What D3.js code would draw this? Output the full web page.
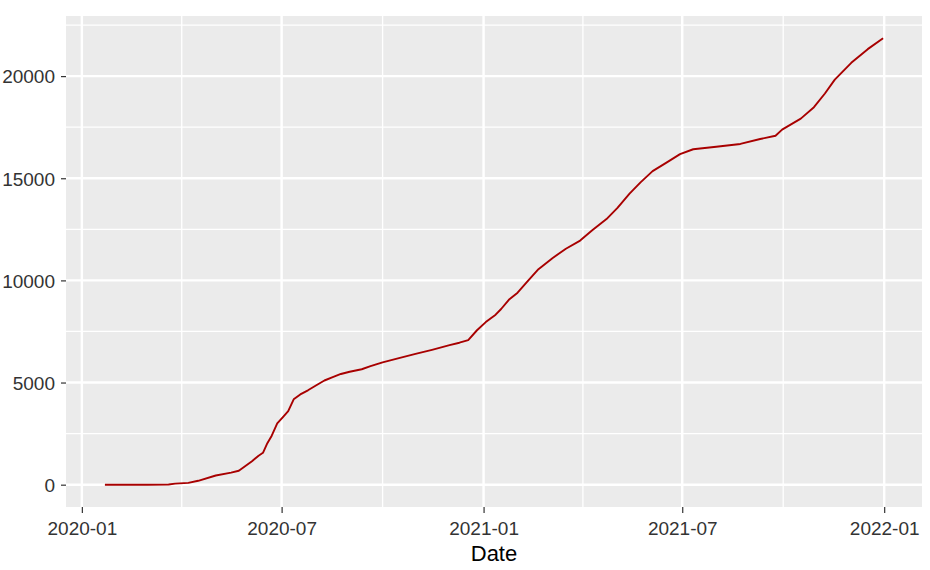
<!DOCTYPE html>
<html lang="en">
<head>
<meta charset="utf-8">
<title>Cumulative count by date</title>
<script src="https://d3js.org/d3.v7.min.js"></script>
<style>
  body { margin: 0; background: #fff; }
  text { font-family: "Liberation Sans", Arial, sans-serif; }
</style>
</head>
<body>
<div id="chart"></div>
<script>

// data (cumulative total)
var dates = [
  "2020-01-22","2020-03-01","2020-03-20","2020-03-26","2020-04-07","2020-04-16",
  "2020-05-02","2020-05-16","2020-05-23","2020-06-04","2020-06-10","2020-06-14",
  "2020-06-18","2020-06-22","2020-06-27","2020-07-02","2020-07-07","2020-07-12",
  "2020-07-18","2020-07-25","2020-08-02","2020-08-09","2020-08-16","2020-08-24",
  "2020-09-01","2020-09-12","2020-09-20","2020-10-01","2020-10-15","2020-10-31",
  "2020-11-15","2020-12-01","2020-12-10","2020-12-18","2020-12-26","2021-01-03",
  "2021-01-12","2021-01-17","2021-01-24","2021-02-01","2021-02-10","2021-02-20",
  "2021-03-05","2021-03-17","2021-03-30","2021-04-10","2021-04-23","2021-05-03",
  "2021-05-14","2021-05-24","2021-06-04","2021-06-17","2021-06-29","2021-07-11",
  "2021-08-01","2021-08-23","2021-09-10","2021-09-24","2021-09-30","2021-10-17",
  "2021-10-29","2021-11-08","2021-11-17","2021-12-02","2021-12-17","2021-12-31"
];
var values = [
  0, 0, 10, 50, 90, 190,
  450, 590, 680, 1150, 1420, 1560,
  2030, 2400, 3000, 3300, 3600, 4180,
  4420, 4620, 4880, 5100, 5250, 5420,
  5530, 5650, 5800, 5990, 6180, 6400,
  6600, 6830, 6950, 7080, 7560, 7960,
  8320, 8600, 9050, 9400, 9950, 10550,
  11100, 11550, 11950, 12450, 13000, 13550,
  14250, 14800, 15350, 15780, 16180, 16420,
  16540, 16680, 16920, 17080, 17380, 17920,
  18480, 19150, 19830, 20650, 21320, 21850
];

var yTicks = [0, 5000, 10000, 15000, 20000];
var yMinor = [2500, 7500, 12500, 17500, 22500];
var xTicks = ["2020-01-01", "2020-07-01", "2021-01-01", "2021-07-01", "2022-01-01"];
var xTitle = "Date";

var parse = d3.timeParse("%Y-%m-%d");
var data = dates.map(function(d, i) { return {date: parse(d), value: values[i]}; });

// panel placement
var W = 930, H = 570;
var panel = {left: 66, right: 922, top: 16, bottom: 507};

var svg = d3.select("#chart").append("svg")
    .attr("width", W)
    .attr("height", H);

// ggplot-like 5% expansion
var xExt = d3.extent(data, function(d) { return d.date; });
var xPad = (xExt[1] - xExt[0]) * 0.05;
var x = d3.scaleTime()
    .domain([new Date(+xExt[0] - xPad), new Date(+xExt[1] + xPad)])
    .range([panel.left, panel.right]);

var yMax = d3.max(values), yPad = yMax * 0.05;
var y = d3.scaleLinear()
    .domain([0 - yPad, yMax + yPad])
    .range([panel.bottom, panel.top]);

var xMajor = xTicks.map(parse);
var xMinor = d3.pairs(xMajor).map(function(p) { return new Date((+p[0] + +p[1]) / 2); });

// panel background
svg.append("rect")
    .attr("x", panel.left).attr("y", panel.top)
    .attr("width", panel.right - panel.left)
    .attr("height", panel.bottom - panel.top)
    .attr("fill", "#ebebeb");

var grid = svg.append("g").attr("stroke", "#fff");

// minor grid
grid.selectAll(".ym").data(yMinor.filter(function(v) { return y(v) > panel.top; }))
  .enter().append("line")
    .attr("x1", panel.left).attr("x2", panel.right)
    .attr("y1", function(d) { return y(d); }).attr("y2", function(d) { return y(d); })
    .attr("stroke-width", 1.3);
grid.selectAll(".xm").data(xMinor)
  .enter().append("line")
    .attr("y1", panel.top).attr("y2", panel.bottom)
    .attr("x1", function(d) { return x(d); }).attr("x2", function(d) { return x(d); })
    .attr("stroke-width", 1.3);

// major grid
grid.selectAll(".yM").data(yTicks)
  .enter().append("line")
    .attr("x1", panel.left).attr("x2", panel.right)
    .attr("y1", function(d) { return y(d); }).attr("y2", function(d) { return y(d); })
    .attr("stroke-width", 2.4);
grid.selectAll(".xM").data(xMajor)
  .enter().append("line")
    .attr("y1", panel.top).attr("y2", panel.bottom)
    .attr("x1", function(d) { return x(d); }).attr("x2", function(d) { return x(d); })
    .attr("stroke-width", 2.4);

// the line
var line = d3.line()
    .x(function(d) { return x(d.date); })
    .y(function(d) { return y(d.value); });

svg.append("path")
    .datum(data)
    .attr("d", line)
    .attr("fill", "none")
    .attr("stroke", "#a80000")
    .attr("stroke-width", 1.9)
    .attr("stroke-linejoin", "round");

// axes
var yAxis = svg.append("g")
    .attr("transform", "translate(" + panel.left + ",0)")
    .call(d3.axisLeft(y).tickValues(yTicks).tickSize(5).tickPadding(6).tickFormat(d3.format("d")));

var xAxis = svg.append("g")
    .attr("transform", "translate(0," + panel.bottom + ")")
    .call(d3.axisBottom(x).tickValues(xMajor).tickSize(6).tickPadding(9).tickFormat(d3.timeFormat("%Y-%m")));

[xAxis, yAxis].forEach(function(a) {
  a.select(".domain").remove();
  a.selectAll(".tick line").attr("stroke", "#333").attr("stroke-width", 1.2);
  a.selectAll(".tick text")
      .attr("fill", "#333")
      .style("font-size", "19px")
      .style("font-family", "'Liberation Sans', Arial, sans-serif");
});

yAxis.selectAll(".tick text").attr("dy", "0.36em");

svg.append("text")
    .attr("x", (panel.left + panel.right) / 2)
    .attr("y", 561)
    .attr("text-anchor", "middle")
    .attr("fill", "#000")
    .style("font-size", "22px")
    .text(xTitle);

</script>
</body>
</html>
